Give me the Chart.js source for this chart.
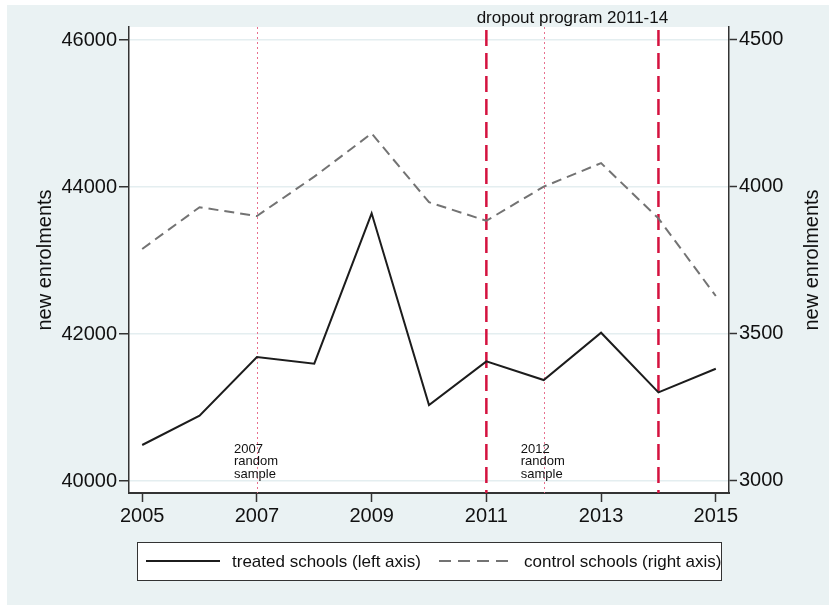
<!DOCTYPE html>
<html>
<head>
<meta charset="utf-8">
<title>New enrolments</title>
<script src="https://cdn.jsdelivr.net/npm/chart.js@4.4.1/dist/chart.umd.min.js"></script>
<style>
  html, body { margin: 0; padding: 0; background: #fff; }
  canvas { display: block; }
</style>
</head>
<body>
<canvas id="enrolChart" width="829" height="605"></canvas>
<script>
// enrolment series, one value per year
const years = [2005, 2006, 2007, 2008, 2009, 2010, 2011, 2012, 2013, 2014, 2015];
const treated = [40490, 40888, 41687, 41596, 43642, 41034, 41628, 41374, 42018, 41206, 41528];
const control = [3789, 3931, 3901, 4035, 4182, 3948, 3885, 4001, 4081, 3893, 3629];

const xTicks = [2005, 2007, 2009, 2011, 2013, 2015];
const leftTicks = [40000, 42000, 44000, 46000];
const rightTicks = [3000, 3500, 4000, 4500];

// reference lines
const sampleYears = [2007, 2012];
const programYears = [2011, 2014];

const FONT = '"Liberation Sans", Arial, Helvetica, sans-serif';
const INK = '#111';
const BG = '#eaf2f3';

const fixTicks = list => scale => { scale.ticks = list.map(v => ({ value: v })); };

const backdrop = {
    id: 'backdrop',
    beforeDraw(chart) {
        const { ctx, chartArea: a } = chart;
        ctx.save();
        ctx.fillStyle = '#fff';
        ctx.fillRect(0, 0, chart.width, chart.height);
        ctx.fillStyle = BG;
        ctx.fillRect(7, 5, chart.width - 7, chart.height - 5);
        ctx.fillStyle = '#fff';
        ctx.fillRect(a.left, a.top, a.right - a.left, a.bottom - a.top);
        ctx.restore();
    }
};

const refLines = {
    id: 'refLines',
    beforeDatasetsDraw(chart) {
        const { ctx, chartArea: a, scales: { x } } = chart;
        ctx.save();
        // random sample years: thin dotted pink
        ctx.strokeStyle = '#e9708e';
        ctx.lineWidth = 1;
        ctx.setLineDash([2, 3]);
        sampleYears.forEach(yr => {
            const px = Math.round(x.getPixelForValue(yr)) + 0.5;
            ctx.beginPath(); ctx.moveTo(px, a.top); ctx.lineTo(px, a.bottom); ctx.stroke();
        });
        // dropout program window: dashed crimson
        ctx.strokeStyle = '#d4123f';
        ctx.lineWidth = 2.5;
        ctx.setLineDash([16, 7]);
        programYears.forEach(yr => {
            const px = x.getPixelForValue(yr);
            ctx.beginPath(); ctx.moveTo(px, a.top + 3); ctx.lineTo(px, a.bottom); ctx.stroke();
        });
        ctx.setLineDash([]);

        ctx.fillStyle = INK;
        ctx.font = '13px ' + FONT;
        ctx.textAlign = 'left';
        ctx.textBaseline = 'alphabetic';
        sampleYears.forEach(yr => {
            const px = x.getPixelForValue(yr - 0.4);
            [String(yr), 'random', 'sample'].forEach((t, i) => ctx.fillText(t, px, 453 + i * 12.3));
        });

        ctx.font = '17px ' + FONT;
        ctx.textAlign = 'center';
        ctx.textBaseline = 'middle';
        const mid = (x.getPixelForValue(programYears[0]) + x.getPixelForValue(programYears[1])) / 2;
        ctx.fillText('dropout program ' + programYears[0] + '-' + String(programYears[1]).slice(2), mid, 18);
        ctx.restore();
    }
};

const extras = {
    id: 'extras',
    afterDraw(chart) {
        const { ctx, chartArea: a } = chart;
        ctx.save();
        // right axis title, reading bottom to top like the left one
        ctx.fillStyle = INK;
        ctx.font = '20px ' + FONT;
        ctx.textAlign = 'center';
        ctx.textBaseline = 'middle';
        ctx.translate(812, (a.top + a.bottom) / 2);
        ctx.rotate(-Math.PI / 2);
        ctx.fillText('new enrolments', 0, 0);
        ctx.restore();

        // legend box
        ctx.save();
        const box = { x: 137, y: 542, w: 584, h: 38 };
        ctx.fillStyle = '#fff';
        ctx.fillRect(box.x, box.y, box.w, box.h);
        ctx.strokeStyle = '#333';
        ctx.lineWidth = 1;
        ctx.strokeRect(box.x + 0.5, box.y + 0.5, box.w, box.h);
        const cy = box.y + box.h / 2;
        const items = chart.data.datasets.map((ds, i) => ({ ds, x0: i === 0 ? 146 : 439, tx: i === 0 ? 232 : 524 }));
        items.forEach(({ ds, x0, tx }) => {
            ctx.strokeStyle = ds.borderColor;
            ctx.lineWidth = ds.borderWidth;
            ctx.setLineDash(ds.borderDash ? [12, 7] : []);
            ctx.beginPath(); ctx.moveTo(x0, cy); ctx.lineTo(x0 + 74, cy); ctx.stroke();
            ctx.setLineDash([]);
            ctx.fillStyle = INK;
            ctx.font = '17px ' + FONT;
            ctx.textAlign = 'left';
            ctx.textBaseline = 'middle';
            ctx.fillText(ds.label, tx, cy + 1);
        });
        ctx.restore();
    }
};

new Chart(document.getElementById('enrolChart'), {
    type: 'line',
    data: {
        datasets: [
            {
                label: 'treated schools (left axis)',
                data: years.map((y, i) => ({ x: y, y: treated[i] })),
                yAxisID: 'y',
                borderColor: '#1c1c1c',
                borderWidth: 2,
                pointRadius: 0,
                tension: 0,
                fill: false
            },
            {
                label: 'control schools (right axis)',
                data: years.map((y, i) => ({ x: y, y: control[i] })),
                yAxisID: 'y1',
                borderColor: '#737373',
                borderWidth: 2,
                borderDash: [10, 6],
                pointRadius: 0,
                tension: 0,
                fill: false
            }
        ]
    },
    options: {
        responsive: false,
        animation: false,
        layout: { padding: { top: 27, left: 0, right: 0, bottom: 0 } },
        plugins: { legend: { display: false }, tooltip: { enabled: false } },
        scales: {
            x: {
                type: 'linear',
                min: 2004.77,
                max: 2015.23,
                afterBuildTicks: fixTicks(xTicks),
                afterFit: s => { s.height = 112; },
                ticks: { color: INK, font: { size: 20, family: FONT }, padding: 2, maxRotation: 0, callback: v => String(v) },
                grid: { drawOnChartArea: false, tickLength: 9, tickColor: '#333', tickWidth: 1.5 },
                border: { color: '#333', width: 2 }
            },
            y: {
                position: 'left',
                min: 39837,
                max: 46177,
                afterBuildTicks: fixTicks(leftTicks),
                afterFit: s => { s.width = 129; },
                ticks: { color: INK, font: { size: 20, family: FONT }, padding: 2, callback: v => String(v) },
                grid: { color: '#e4eef0', lineWidth: 1.5, tickLength: 10, tickColor: '#333', tickWidth: 1.5 },
                border: { color: '#333', width: 1.5 },
                title: { display: true, text: 'new enrolments', color: INK, font: { size: 20, family: FONT }, padding: { top: 33, bottom: 0 } }
            },
            y1: {
                position: 'right',
                min: 2959,
                max: 4544,
                afterBuildTicks: fixTicks(rightTicks),
                afterFit: s => { s.width = 100; },
                ticks: { color: INK, font: { size: 20, family: FONT }, padding: 2, callback: v => String(v) },
                grid: { drawOnChartArea: false, tickLength: 8, tickColor: '#333', tickWidth: 1.5 },
                border: { color: '#333', width: 1.5 }
            }
        }
    },
    plugins: [backdrop, refLines, extras]
});
</script>
</body>
</html>
